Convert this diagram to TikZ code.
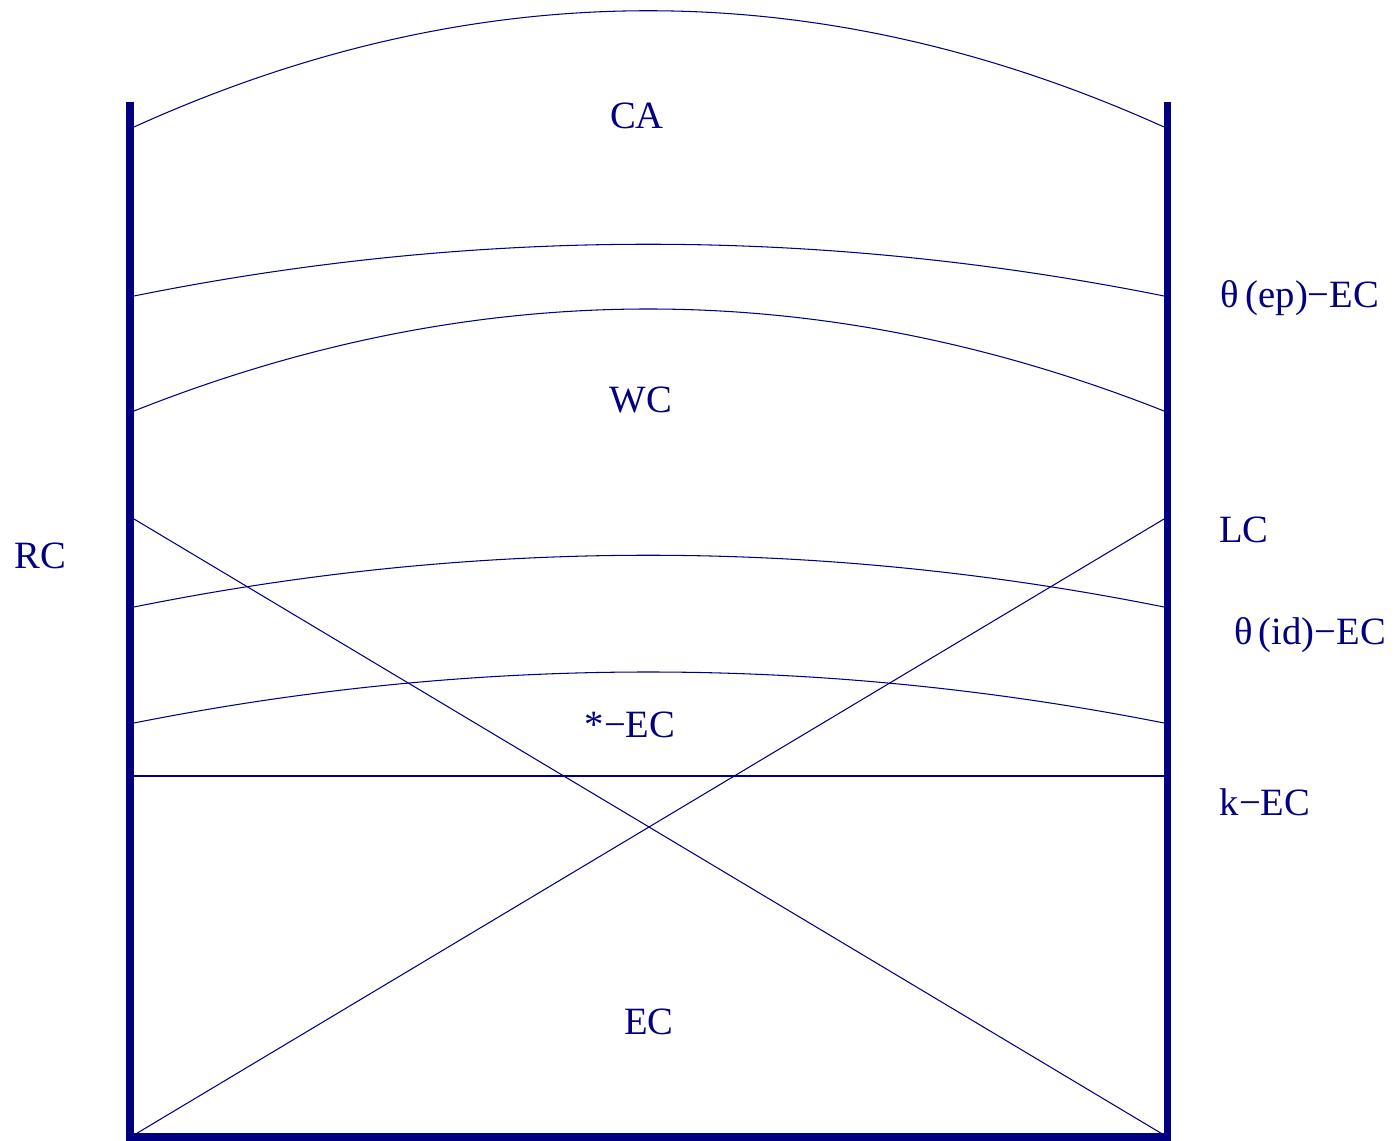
\documentclass[tikz,border=0pt]{standalone}
\usepackage{fontspec}
\setmainfont{Liberation Serif}
\usepackage{xcolor}
\usetikzlibrary{positioning}
\definecolor{navyblue}{rgb}{0,0,0.5}

\begin{document}
\begin{tikzpicture}[x=0.02cm, y=-0.02cm,
    region/.style={font=\fontsize{22}{26}\selectfont, text=navyblue, inner sep=0pt},
    wall/.style={line width=4pt, draw=navyblue, line join=miter},
    curve/.style={line width=0.6pt, draw=navyblue}]
    \useasboundingbox (0,0) rectangle (1395,1141);

    % Outer frame (walls and floor)
    \draw[wall] (130,102) -- (130,1137) -- (1167,1137) -- (1167,102);

    % Arcs between the walls
    \draw[curve] (134,127) .. controls (476,-28) and (820,-28) .. (1164,127);
    \draw[curve] (134,296) .. controls (476,227) and (820,227) .. (1164,296);
    \draw[curve] (134,411) .. controls (476,275) and (820,275) .. (1164,411);
    \draw[curve] (134,607) .. controls (476,538) and (820,538) .. (1164,607);
    \draw[curve] (134,723) .. controls (476,655) and (820,655) .. (1164,723);

    % Straight k line
    \draw[curve] (134,776) -- (1164,776);

    % Crossing diagonals
    \draw[curve] (134,519) -- (1164,1135);
    \draw[curve] (1164,519) -- (134,1135);

    % Labels inside
    \node[region] (ca) at (637,116) {CA};
    \node[region] (wc) at (641,400) {WC};
    \node[region] (star) at (630,725) {*−EC};
    \node[region] (ec) at (649,1022) {EC};

    % Labels outside
    \node[region] (rc) at (40,556) {RC};
    \node[region] (thep) at (1300,298) {θ\,(ep)−EC};
    \node[region] (lc) at (1244,530) {LC};
    \node[region] (thid) at (1310,635) {θ\,(id)−EC};
    \node[region] (kec) at (1265,802) {k−EC};
\end{tikzpicture}
\end{document}
